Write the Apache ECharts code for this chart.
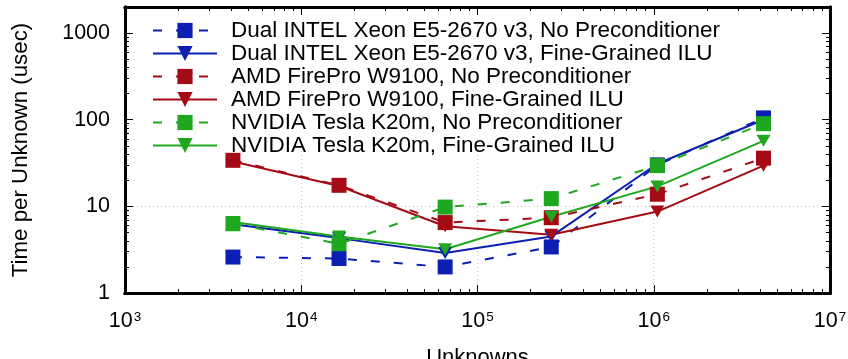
<!DOCTYPE html>
<html>
<head>
<meta charset="utf-8">
<script src="https://cdn.jsdelivr.net/npm/echarts@6/dist/echarts.min.js"></script>
<style>html,body{margin:0;padding:0;background:#fff}#c{width:848px;height:359px}</style>
</head>
<body>
<div id="c"></div>
<script>
var unknowns = [4096, 16384, 65536, 262144, 1048576, 4194304];
var intelNoPrec = [2.6, 2.5, 2.0, 3.4, 30, 105];
var intelILU = [6.2, 4.3, 2.9, 4.5, 31, 100];
var amdNoPrec = [34, 17.5, 6.5, 7.4, 13.8, 36];
var amdILU = [33, 17.2, 5.9, 4.7, 8.7, 29.5];
var nvNoPrec = [6.3, 3.7, 9.8, 12.3, 29.5, 90];
var nvILU = [6.6, 4.5, 3.2, 7.6, 17, 57];
var seriesNames = [
  'Dual INTEL Xeon E5-2670 v3, No Preconditioner',
  'Dual INTEL Xeon E5-2670 v3, Fine-Grained ILU',
  'AMD FirePro W9100, No Preconditioner',
  'AMD FirePro W9100, Fine-Grained ILU',
  'NVIDIA Tesla K20m, No Preconditioner',
  'NVIDIA Tesla K20m, Fine-Grained ILU'
];
var xMajorTicks = [1000, 10000, 100000, 1000000, 10000000];
var yMajorTicks = [1, 10, 100, 1000];
var xMin = 1000, xMax = 10000000, yMin = 1, yMax = 2000;

var xMinorTicks = [], yMinorTicks = [];
[1000, 10000, 100000, 1000000].forEach(function (d) { for (var k = 2; k <= 9; k++) xMinorTicks.push(d * k); });
[1, 10, 100, 1000].forEach(function (d) { for (var k = 2; k <= 9; k++) if (d * k <= yMax) yMinorTicks.push(d * k); });

var BLUE = '#0b1fb3', RED = '#a50b14', GREEN = '#1fa81f';
var FONT = 'Liberation Sans';
var triPath = 'path://M0,0 L14,0 L7,12 Z';

function pairs(ys) { return unknowns.map(function (x, i) { return [x, ys[i]]; }); }
function mk(name, ys, color, dashed) {
  return {
    name: name, type: 'line', data: pairs(ys), z: 2,
    xAxisIndex: 0, yAxisIndex: 0,
    symbol: dashed ? 'rect' : triPath,
    symbolSize: dashed ? 15 : [14, 12],
    lineStyle: { color: color, width: 2, type: dashed ? [9, 14] : 'solid' },
    itemStyle: { color: color },
    emphasis: { disabled: true },
    animation: false
  };
}
function lg(v) { return Math.log10(v); }

// Overlay axes that only draw tick marks (in log10 space of the main log axes)
function tickAxis(kind, pos, vals, len) {
  return {
    type: 'value', position: pos,
    min: kind === 'x' ? lg(xMin) : lg(yMin), max: kind === 'x' ? lg(xMax) : lg(yMax),
    z: 3,
    axisLine: { show: true, onZero: false, lineStyle: { color: '#000', width: 3 } },
    axisTick: { show: true, inside: true, length: len, customValues: vals.map(function (v) { return lg(v); }), lineStyle: { color: '#000' } },
    axisLabel: { show: false },
    splitLine: { show: false }
  };
}

var chart = echarts.init(document.getElementById('c'), null, { renderer: 'canvas' });
chart.setOption({
  animation: false,
  backgroundColor: '#fff',
  textStyle: { fontFamily: FONT },
  grid: { left: 125, right: 18, top: 7, bottom: 66, outerBoundsMode: 'none' },
  graphic: [{
    type: 'rect', z: 1,
    shape: { x: 128, y: 9, width: 700, height: 142 },
    style: { fill: '#fff' }
  }],
  legend: {
    orient: 'vertical', left: 152, top: 19, padding: 0,
    itemWidth: 64, itemHeight: 19, itemGap: 0,
    data: seriesNames,
    textStyle: { fontFamily: FONT, fontSize: 22.5, color: '#000', lineHeight: 22.6, padding: [0, 0, 0, 9] },
    selectedMode: false
  },
  xAxis: [
    {
      type: 'log', logBase: 10, min: xMin, max: xMax, position: 'bottom', z: 0,
      name: 'Unknowns', nameLocation: 'middle', nameGap: 34,
      nameTextStyle: { fontFamily: FONT, fontSize: 22, color: '#000' },
      axisLine: { show: true, lineStyle: { color: '#000', width: 3 } },
      axisTick: { show: false },
      axisLabel: {
        margin: 17, color: '#000',
        formatter: function (v) { return '{b|10}{s|' + Math.round(Math.log10(v)) + '}'; },
        rich: {
          b: { fontFamily: FONT, fontSize: 21.5, color: '#000', verticalAlign: 'bottom', lineHeight: 22 },
          s: { fontFamily: FONT, fontSize: 13.5, color: '#000', verticalAlign: 'top', lineHeight: 12, padding: [0, 0, 18, 1] }
        }
      },
      splitLine: { show: true, lineStyle: { color: '#c4c4c4', width: 1, type: [1, 3] } },
      minorTick: { show: false }
    },
    tickAxis('x', 'bottom', xMajorTicks, 8),
    tickAxis('x', 'bottom', xMinorTicks, 4),
    tickAxis('x', 'top', xMajorTicks, 8),
    tickAxis('x', 'top', xMinorTicks, 4)
  ],
  yAxis: [
    {
      type: 'log', logBase: 10, min: yMin, max: yMax, position: 'left', z: 0,
      name: 'Time per Unknown (usec)', nameLocation: 'middle', nameGap: 93,
      nameTextStyle: { fontFamily: FONT, fontSize: 22.3, color: '#000' },
      axisLine: { show: true, lineStyle: { color: '#000', width: 3 } },
      axisTick: { show: false },
      axisLabel: {
        margin: 15, color: '#000', fontFamily: FONT, fontSize: 21.5, showMaxLabel: false,
        formatter: function (v) { return yMajorTicks.indexOf(Math.round(v)) >= 0 ? String(Math.round(v)) : ''; }
      },
      splitLine: { show: true, lineStyle: { color: '#c4c4c4', width: 1, type: [1, 3] } },
      minorTick: { show: false }
    },
    tickAxis('y', 'left', yMajorTicks, 8),
    tickAxis('y', 'left', yMinorTicks, 4),
    tickAxis('y', 'right', yMajorTicks, 8),
    tickAxis('y', 'right', yMinorTicks, 4)
  ],
  series: [
    mk(seriesNames[0], intelNoPrec, BLUE, true),
    mk(seriesNames[1], intelILU, BLUE, false),
    mk(seriesNames[2], amdNoPrec, RED, true),
    mk(seriesNames[3], amdILU, RED, false),
    mk(seriesNames[4], nvNoPrec, GREEN, true),
    mk(seriesNames[5], nvILU, GREEN, false)
  ]
});
</script>
</body>
</html>
